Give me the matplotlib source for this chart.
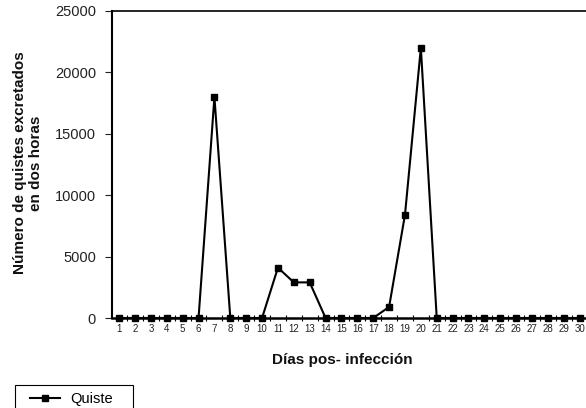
import numpy as np
import matplotlib.pyplot as plt
from matplotlib.ticker import MultipleLocator
from matplotlib.patches import Rectangle

plt.rcParams['font.family'] = ['Liberation Sans', 'DejaVu Sans']

dias = list(range(1, 31))
quiste = [0, 0, 0, 0, 0, 0, 18000, 0, 0, 0,
          4100, 2900, 2900, 0, 0, 0, 0, 900, 8400, 22000,
          0, 0, 0, 0, 0, 0, 0, 0, 0, 0]
yticks = [0, 5000, 10000, 15000, 20000, 25000]

fig = plt.figure(figsize=(5.86, 4.08), dpi=100)
ax = fig.add_axes([112/586, 1-318/408, 1-112/586, (318-11)/408])

ax.plot(dias, quiste, color='black', lw=1.5, marker='s', ms=4, label='Quiste',
        clip_on=False, zorder=3)

ax.set_xlim(0.55, 30.4)
ax.set_ylim(0, 25000)
ax.set_yticks(yticks)
ax.set_xticks(dias)
ax.xaxis.set_minor_locator(MultipleLocator(1, offset=0.5))
ax.tick_params(axis='x', which='major', length=0, labelsize=7, pad=4)
ax.tick_params(axis='x', which='minor', direction='inout', length=5, width=0.8)
ax.tick_params(axis='y', direction='out', length=5, width=0.8, labelsize=10.5, pad=6.5,
               colors='#222222')
ax.tick_params(axis='x', colors='#222222')

ax.spines['right'].set_visible(False)
ax.spines['left'].set_linewidth(1.5)
ax.spines['bottom'].set_linewidth(1.8)
ax.spines['top'].set_linewidth(1.2)

fig.text(342/586, 1-360/408, 'Días pos- infección', ha='center', va='center',
         fontsize=11, fontweight='bold', color='#111111')
fig.text(28/586, 1-163/408, 'Número de quistes excretados\nen dos horas',
         ha='center', va='center', rotation=90, fontsize=11, fontweight='bold',
         linespacing=1.2, color='#111111')

# legend box at the bottom, cut by the edge as in the original
fig.patches.append(Rectangle((15/586, -0.05), 118/586, 0.05 + (408-385)/408,
                             transform=fig.transFigure, fill=False,
                             edgecolor='black', lw=0.8))
fig.legend(loc='center left', bbox_to_anchor=(30/586, 1-399/408),
           fontsize=10.5, frameon=False, borderpad=0, borderaxespad=0,
           handlelength=2.05, handletextpad=0.7)

fig.savefig('out.png', dpi=100)
